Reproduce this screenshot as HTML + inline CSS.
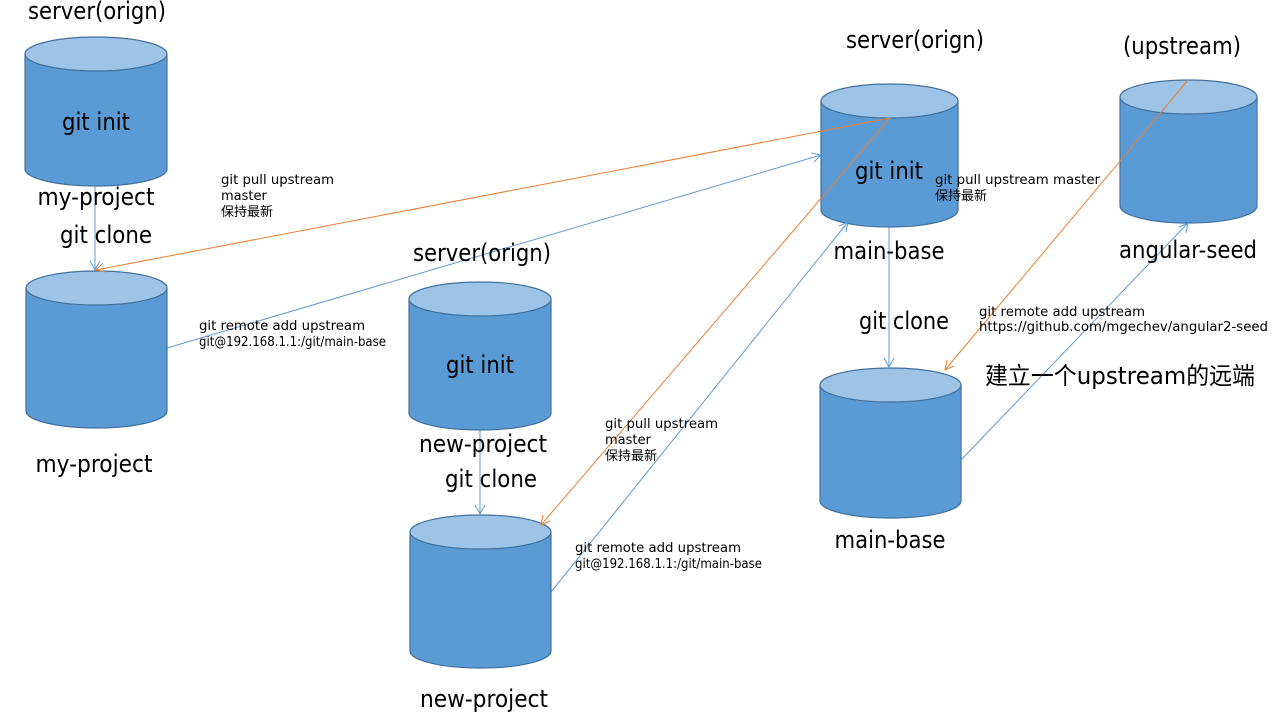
<!DOCTYPE html>
<html><head><meta charset="utf-8"><style>
html,body{margin:0;padding:0;background:#fff;}
svg{display:block;}
.b{font-family:"DejaVu Sans","Liberation Sans","Noto Sans CJK SC",sans-serif;font-size:24px;fill:#000;text-anchor:middle;}
.s{font-family:"DejaVu Sans","Liberation Sans","Noto Sans CJK SC",sans-serif;font-size:13px;fill:#000;}
.c{font-family:"DejaVu Sans","Noto Sans CJK SC",sans-serif;font-size:24px;fill:#000;}
</style></head><body>
<svg width="1280" height="720" viewBox="0 0 1280 720" xmlns="http://www.w3.org/2000/svg">
<g stroke="#41719c" stroke-width="1.2">
<path d="M25,54 L25,169 A71,17 0 0 0 167,169 L167,54 Z" fill="#5b9bd5"/>
<ellipse cx="96" cy="54" rx="71" ry="17" fill="#9dc3e6"/>
<path d="M26,288 L26,411 A70.5,17 0 0 0 167,411 L167,288 Z" fill="#5b9bd5"/>
<ellipse cx="96.5" cy="288" rx="70.5" ry="17" fill="#9dc3e6"/>
<path d="M409,299 L409,413 A71,17 0 0 0 551,413 L551,299 Z" fill="#5b9bd5"/>
<ellipse cx="480" cy="299" rx="71" ry="17" fill="#9dc3e6"/>
<path d="M410,532 L410,651 A70.5,17 0 0 0 551,651 L551,532 Z" fill="#5b9bd5"/>
<ellipse cx="480.5" cy="532" rx="70.5" ry="17" fill="#9dc3e6"/>
<path d="M821,101 L821,210 A68.5,17 0 0 0 958,210 L958,101 Z" fill="#5b9bd5"/>
<ellipse cx="889.5" cy="101" rx="68.5" ry="17" fill="#9dc3e6"/>
<path d="M1120,97 L1120,206 A68.5,17 0 0 0 1257,206 L1257,97 Z" fill="#5b9bd5"/>
<ellipse cx="1188.5" cy="97" rx="68.5" ry="17" fill="#9dc3e6"/>
<path d="M820,385 L820,501 A70.5,17 0 0 0 961,501 L961,385 Z" fill="#5b9bd5"/>
<ellipse cx="890.5" cy="385" rx="70.5" ry="17" fill="#9dc3e6"/>
</g>
<g fill="none" stroke-width="1">
<g stroke="#5b9bd5">
<line x1="95" y1="186" x2="95" y2="270"/><polyline points="90,261 95,270 100,261"/>
<line x1="480" y1="430" x2="480" y2="514"/><polyline points="475,505 480,514 485,505"/>
<line x1="889" y1="227" x2="889" y2="367"/><polyline points="884,358 889,367 894,358"/>
<line x1="167" y1="348" x2="821" y2="155"/><polyline points="811,153 821,155 814,162"/>
<line x1="551" y1="592" x2="848" y2="222"/><polyline points="839,226 848,222 846,232"/>
<line x1="961" y1="460" x2="1188" y2="223"/><polyline points="1179,227 1188,223 1186,233"/>
</g>
<g stroke="#ed7d31">
<line x1="890" y1="118" x2="96" y2="270"/><polyline points="103,263 96,270 106,272"/>
<line x1="890" y1="118" x2="541" y2="525"/><polyline points="543,515 541,525 550,521"/>
<line x1="1188" y1="80" x2="945" y2="370"/><polyline points="947,360 945,370 954,366"/>
</g>
</g>
<text class="b" x="97" y="19" textLength="138" lengthAdjust="spacingAndGlyphs">server(orign)</text>
<text class="b" x="96" y="130" textLength="68" lengthAdjust="spacingAndGlyphs">git init</text>
<text class="b" x="96" y="205" textLength="117" lengthAdjust="spacingAndGlyphs">my-project</text>
<text class="b" x="106" y="243" textLength="92" lengthAdjust="spacingAndGlyphs">git clone</text>
<text class="b" x="94" y="472" textLength="117" lengthAdjust="spacingAndGlyphs">my-project</text>
<text class="b" x="482" y="261" textLength="138" lengthAdjust="spacingAndGlyphs">server(orign)</text>
<text class="b" x="480" y="373" textLength="68" lengthAdjust="spacingAndGlyphs">git init</text>
<text class="b" x="483" y="452" textLength="128" lengthAdjust="spacingAndGlyphs">new-project</text>
<text class="b" x="491" y="487" textLength="92" lengthAdjust="spacingAndGlyphs">git clone</text>
<text class="b" x="484" y="707" textLength="128" lengthAdjust="spacingAndGlyphs">new-project</text>
<text class="b" x="915" y="48" textLength="138" lengthAdjust="spacingAndGlyphs">server(orign)</text>
<text class="b" x="889" y="179" textLength="68" lengthAdjust="spacingAndGlyphs">git init</text>
<text class="b" x="889" y="259" textLength="111" lengthAdjust="spacingAndGlyphs">main-base</text>
<text class="b" x="904" y="329" textLength="90" lengthAdjust="spacingAndGlyphs">git clone</text>
<text class="b" x="890" y="548" textLength="111" lengthAdjust="spacingAndGlyphs">main-base</text>
<text class="b" x="1182" y="54" textLength="118" lengthAdjust="spacingAndGlyphs">(upstream)</text>
<text class="b" x="1188" y="258" textLength="138" lengthAdjust="spacingAndGlyphs">angular-seed</text>
<text class="c" x="985" y="384" textLength="270" lengthAdjust="spacingAndGlyphs">建立一个upstream的远端</text>
<text class="s" x="221" y="184" textLength="113" lengthAdjust="spacingAndGlyphs">git pull upstream</text>
<text class="s" x="221" y="200">master</text>
<text class="s" x="221" y="216">保持最新</text>
<text class="s" x="199" y="330" textLength="166" lengthAdjust="spacingAndGlyphs">git remote add upstream</text>
<text class="s" x="199" y="346" textLength="187" lengthAdjust="spacingAndGlyphs">git@192.168.1.1:/git/main-base</text>
<text class="s" x="605" y="428" textLength="113" lengthAdjust="spacingAndGlyphs">git pull upstream</text>
<text class="s" x="605" y="444">master</text>
<text class="s" x="605" y="460">保持最新</text>
<text class="s" x="575" y="552" textLength="166" lengthAdjust="spacingAndGlyphs">git remote add upstream</text>
<text class="s" x="575" y="568" textLength="187" lengthAdjust="spacingAndGlyphs">git@192.168.1.1:/git/main-base</text>
<text class="s" x="935" y="184" textLength="165" lengthAdjust="spacingAndGlyphs">git pull upstream master</text>
<text class="s" x="935" y="200">保持最新</text>
<text class="s" x="979" y="316" textLength="166" lengthAdjust="spacingAndGlyphs">git remote add upstream</text>
<text class="s" x="979" y="331" textLength="289" lengthAdjust="spacingAndGlyphs">https://github.com/mgechev/angular2-seed</text>
</svg>
</body></html>
